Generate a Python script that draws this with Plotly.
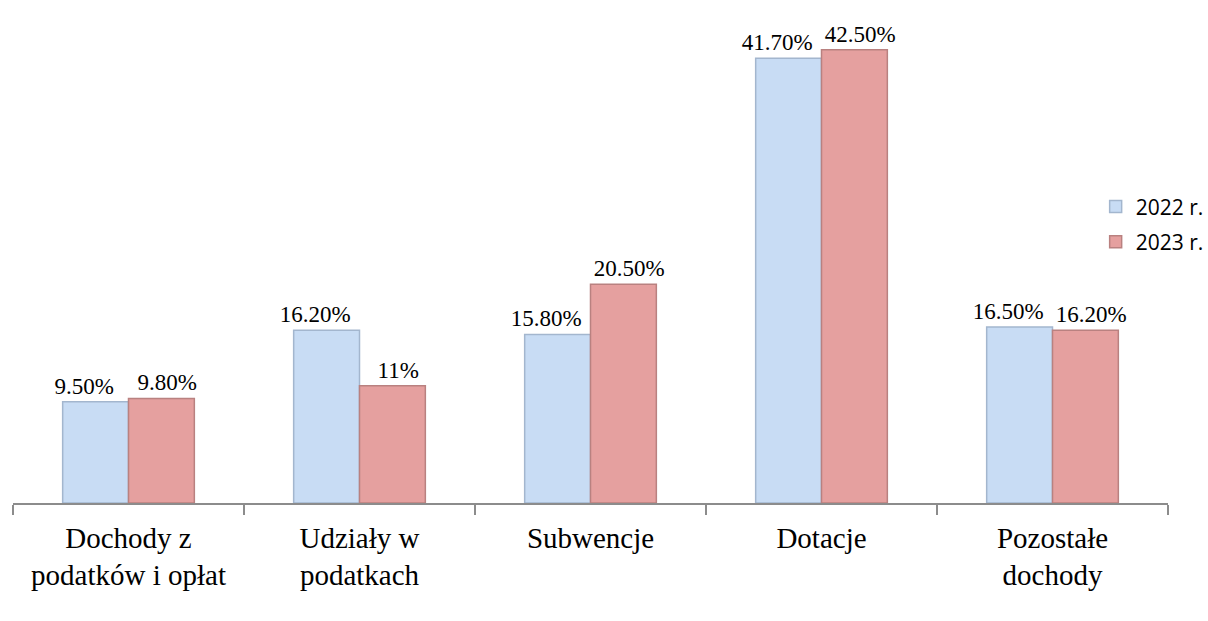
import plotly.graph_objects as go

categories = ["Dochody z<br>podatków i opłat", "Udziały w<br>podatkach", "Subwencje", "Dotacje", "Pozostałe<br>dochody"]
series_names = ["2022 r.", "2023 r."]
values_2022 = [9.5, 16.2, 15.8, 41.7, 16.5]
values_2023 = [9.8, 11.0, 20.5, 42.5, 16.2]
labels_2022 = ["9.50%", "16.20%", "15.80%", "41.70%", "16.50%"]
labels_2023 = ["9.80%", "11%", "20.50%", "42.50%", "16.20%"]

label_font = dict(family="Liberation Serif", size=23, color="black")

fig = go.Figure()
fig.add_trace(go.Bar(
    x=categories, y=values_2022, name=series_names[0], legendgroup="a",
    text=labels_2022, texttemplate="%{text}\u2003", textposition="outside",
    cliponaxis=False, constraintext="none", textfont=label_font,
    marker=dict(color="#C8DCF4", line=dict(color="#A3B6CE", width=1.5)),
))
fig.add_trace(go.Bar(
    x=categories, y=values_2023, name=series_names[1], legendgroup="b",
    text=labels_2023, texttemplate="\u2002%{text}", textposition="outside",
    cliponaxis=False, constraintext="none", textfont=label_font,
    marker=dict(color="#E5A09F", line=dict(color="#B98180", width=1.5)),
))

fig.update_layout(
    width=1208, height=621,
    margin=dict(l=13, r=40, t=23, b=118, autoexpand=False),
    paper_bgcolor="white", plot_bgcolor="white",
    barmode="group", bargap=0.43, bargroupgap=0,
    showlegend=True,
    legend=dict(xref="container", yref="container", x=0.907, y=0.70,
                xanchor="left", yanchor="top", traceorder="grouped",
                font=dict(family="Open Sans", size=21, color="black"),
                bgcolor="rgba(0,0,0,0)", tracegroupgap=5, itemwidth=30),
    xaxis=dict(showline=True, linecolor="#8C8C8C", linewidth=1.5,
               ticks="outside", tickson="boundaries", ticklen=10, tickcolor="#8C8C8C",
               tickwidth=1.5, ticklabelstandoff=8,
               tickfont=dict(family="Liberation Serif", size=29, color="black"),
               showgrid=False),
    yaxis=dict(range=[0, 45], visible=False, showgrid=False),
)

fig.write_html("out.html", config={"displayModeBar": False},
               post_script="document.body.style.margin='0';")
